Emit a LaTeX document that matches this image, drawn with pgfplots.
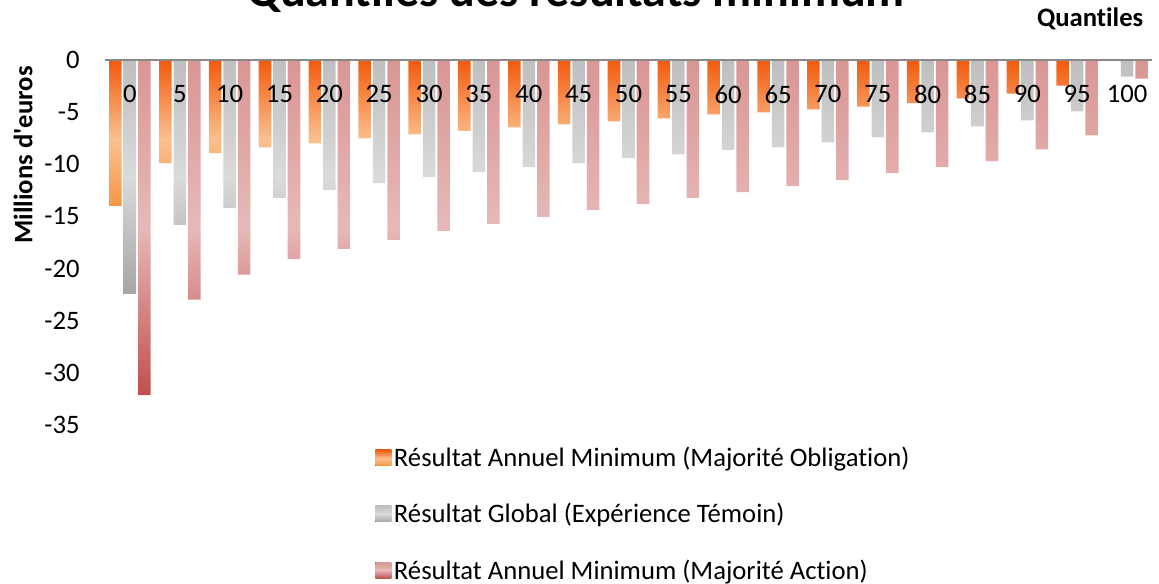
\documentclass[border=0pt]{standalone}
\usepackage{fontspec}
\setmainfont{Carlito}[Ligatures=CommonOff]
\usepackage{pgfplots}
\pgfplotsset{compat=1.18}
\definecolor{otop}{HTML}{F25A0C}
\definecolor{opeach}{HTML}{FAC08F}
\definecolor{obot}{HTML}{F79646}
\definecolor{gtop}{HTML}{BFBFBF}
\definecolor{gmid}{HTML}{DADADA}
\definecolor{gbot}{HTML}{A6A6A6}
\definecolor{rtop}{HTML}{D99694}
\definecolor{rmid}{HTML}{E6B9B8}
\definecolor{rbot}{HTML}{C0504D}
\definecolor{axisgray}{HTML}{898989}
\pgfdeclareverticalshading{oshade}{100bp}{color(0bp)=(obot); color(25bp)=(obot); color(48bp)=(opeach); color(75bp)=(otop); color(100bp)=(otop)}
\pgfdeclareverticalshading{gshade}{100bp}{color(0bp)=(gbot); color(25bp)=(gbot); color(50bp)=(gmid); color(75bp)=(gtop); color(100bp)=(gtop)}
\pgfdeclareverticalshading{rshade}{100bp}{color(0bp)=(rbot); color(25bp)=(rbot); color(50bp)=(rmid); color(75bp)=(rtop); color(100bp)=(rtop)}
\pgfplotsset{sqlegend/.style={legend image code/.code={\fill[##1] (0pt,-6pt) rectangle (12pt,6pt);}}}
\newcommand\lbl{\fontsize{20}{24}\selectfont}
\begin{document}
\begin{tikzpicture}
\useasboundingbox (0,0) rectangle (869.25pt,438pt);
\clip (0,0) rectangle (869.25pt,438pt);
\begin{axis}[
  at={(78.75pt,119.25pt)}, anchor=south west,
  scale only axis, width=785.25pt, height=273.75pt,
  xmin=-0.5, xmax=20.5, ymin=-35, ymax=0,
  axis on top,
  axis x line=top, axis y line=left,
  x axis line style={draw=axisgray, line width=1.5pt, -},
  y axis line style={draw=none},
  major tick length=0pt,
  xtick={0,1,2,3,4,5,6,7,8,9,10,11,12,13,14,15,16,17,18,19,20},
  xticklabels={0,5,10,15,20,25,30,35,40,45,50,55,60,65,70,75,80,85,90,95,100},
  xticklabel style={font=\lbl, anchor=center, yshift=-25.7pt},
  ytick={-35,-30,-25,-20,-15,-10,-5,0},
  yticklabels={-35,-30,-25,-20,-15,-10,-5,0},
  yticklabel style={font=\lbl, anchor=east, xshift=-15.55pt},
  ybar, bar width=9.4pt,
  title={Quantiles des résultats minimum},
  title style={font=\fontsize{36}{40}\selectfont\bfseries, at={(axis description cs:0.4499,1.1233)}, anchor=base},
  xlabel={Quantiles},
  xlabel style={font=\lbl\bfseries, at={(axis description cs:0.99618,1.0917)}, anchor=base east},
  ylabel={Millions d\textquotesingle euros},
  ylabel style={font=\lbl\bfseries, at={(axis description cs:-0.0783,0.7397)}, anchor=center},
  legend style={at={(axis description cs:0.2579,-0.052)}, anchor=north west, draw=none, fill=none, font=\lbl, row sep=22.1pt, inner sep=0pt, nodes={inner sep=2pt}},
  legend cell align=left,
]
\addplot[ybar, bar shift=-10.875pt, draw=none, shade, shading=oshade, sqlegend]
  coordinates {(0,-14.0) (1,-9.89) (2,-8.94) (3,-8.37) (4,-7.99) (5,-7.51) (6,-7.13) (7,-6.80) (8,-6.46) (9,-6.17) (10,-5.89) (11,-5.60) (12,-5.22) (13,-5.03) (14,-4.74) (15,-4.46) (16,-4.13) (17,-3.69) (18,-3.22) (19,-2.45)};
\addlegendentry{Résultat Annuel Minimum (Majorité Obligation)}
\addplot[ybar, bar shift=0pt, draw=none, shade, shading=gshade, sqlegend]
  coordinates {(0,-22.42) (1,-15.81) (2,-14.19) (3,-13.23) (4,-12.47) (5,-11.80) (6,-11.23) (7,-10.75) (8,-10.28) (9,-9.89) (10,-9.42) (11,-9.04) (12,-8.65) (13,-8.37) (14,-7.89) (15,-7.41) (16,-6.94) (17,-6.36) (18,-5.79) (19,-4.93) (20,-1.59)};
\addlegendentry{Résultat Global (Expérience Témoin)}
\addplot[ybar, bar shift=10.875pt, draw=none, shade, shading=rshade, sqlegend]
  coordinates {(0,-32.13) (1,-22.97) (2,-20.58) (3,-19.06) (4,-18.10) (5,-17.24) (6,-16.38) (7,-15.72) (8,-15.05) (9,-14.38) (10,-13.81) (11,-13.23) (12,-12.66) (13,-12.09) (14,-11.52) (15,-10.85) (16,-10.28) (17,-9.70) (18,-8.56) (19,-7.22) (20,-1.78)};
\addlegendentry{Résultat Annuel Minimum (Majorité Action)}
\end{axis}
\end{tikzpicture}
\end{document}
